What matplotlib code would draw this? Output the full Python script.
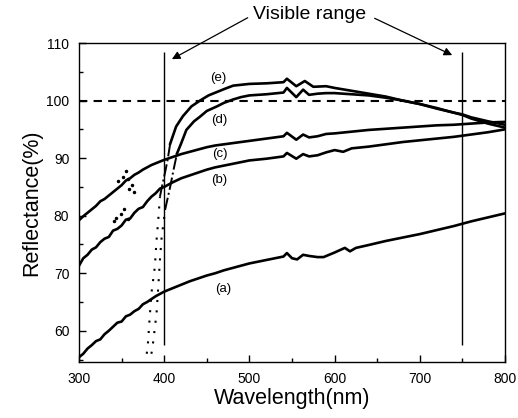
import numpy as np
from matplotlib import pyplot as plt
from matplotlib.ticker import MultipleLocator

plt.rcParams['font.family'] = ['Liberation Sans', 'DejaVu Sans']

# curve (a)
wl_a = [300, 305, 310, 315, 320, 325, 330, 335, 340, 345, 350, 355, 360, 365, 370,
        375, 380, 385, 390, 395, 400, 410, 420, 430, 440, 450, 460, 470, 480, 490,
        500, 510, 520, 530, 540, 544, 550, 556, 563, 570, 580, 587, 600, 612, 618,
        625, 640, 660, 680, 700, 720, 740, 750, 760, 780, 800]
r_a = [55.4, 56.0, 56.9, 57.5, 58.2, 58.5, 59.4, 60.0, 60.7, 61.4, 61.6, 62.5, 62.8, 63.4, 63.8,
       64.6, 65.0, 65.5, 66.0, 66.4, 66.8, 67.4, 68.0, 68.6, 69.1, 69.6, 70.0, 70.5, 70.9, 71.3,
       71.7, 72.0, 72.3, 72.6, 72.9, 73.5, 72.6, 72.4, 73.2, 73.0, 72.8, 72.8, 73.6, 74.4, 73.8,
       74.4, 74.9, 75.6, 76.2, 76.8, 77.5, 78.2, 78.6, 79.0, 79.7, 80.4]

# curve (b)
wl_b = [300, 305, 310, 315, 320, 325, 330, 335, 340, 345, 350, 355, 360, 365, 370,
        375, 380, 385, 390, 395, 400, 410, 420, 430, 440, 450, 460, 470, 480, 490,
        500, 520, 540, 544, 555, 563, 570, 580, 590, 600, 610, 620, 640, 660, 680,
        700, 720, 740, 760, 780, 800]
r_b = [71.3, 72.6, 73.2, 74.1, 74.5, 75.4, 76.0, 76.3, 77.4, 77.7, 78.3, 79.3, 79.5, 80.5, 81.2,
       81.5, 82.5, 83.3, 83.9, 84.7, 85.0, 85.8, 86.5, 87.0, 87.5, 88.0, 88.4, 88.7, 89.0, 89.3,
       89.6, 89.9, 90.3, 90.9, 89.9, 90.7, 90.3, 90.5, 91.0, 91.4, 91.1, 91.7, 92.0, 92.4, 92.8,
       93.1, 93.4, 93.7, 94.1, 94.5, 95.0]

# curve (c)
wl_c = [300, 305, 310, 315, 320, 325, 330, 335, 340, 345, 350, 355, 360, 365, 370,
        375, 380, 385, 390, 395, 400, 410, 420, 430, 440, 450, 460, 470, 480, 490,
        500, 520, 540, 544, 555, 563, 570, 580, 590, 600, 620, 640, 660, 680, 700,
        720, 740, 760, 780, 800]
r_c = [79.2, 79.9, 80.5, 81.1, 81.7, 82.5, 82.9, 83.5, 84.1, 84.7, 85.3, 86.1, 86.5, 87.1, 87.5,
       88.0, 88.4, 88.8, 89.1, 89.4, 89.7, 90.2, 90.7, 91.1, 91.5, 91.9, 92.2, 92.4, 92.6, 92.8,
       93.0, 93.4, 93.8, 94.4, 93.2, 94.1, 93.6, 93.8, 94.2, 94.3, 94.6, 94.9, 95.1, 95.3, 95.5,
       95.7, 95.8, 96.0, 96.2, 96.3]

# curve (d): dotted rise, dash-dot rise, then solid
wl_d_dot = [385, 387, 389, 391, 393, 395, 397, 399, 401]
r_d_dot = [56.0, 58.0, 60.5, 63.0, 67.6, 72.3, 76.3, 78.5, 81.0]
wl_d_dd = [401, 404, 407, 411, 415]
r_d_dd = [81.0, 83.0, 85.0, 88.0, 90.8]
wl_d = [415, 420, 426, 435, 442, 450, 462, 470, 481, 490, 500, 520, 540, 544, 555,
        563, 570, 580, 590, 600, 620, 640, 660, 680, 700, 720, 740, 750, 760, 780, 800]
r_d = [90.8, 92.6, 94.9, 96.4, 97.2, 98.2, 99.0, 99.6, 100.2, 100.6, 100.9, 101.1, 101.4, 102.2, 100.6,
       101.9, 101.0, 101.2, 101.3, 101.3, 101.1, 100.9, 100.5, 100.0, 99.4, 98.7, 97.9, 97.5, 96.9, 96.0, 95.3]

# curve (e)
wl_e_dot = [379.5, 381, 383, 385, 387, 389, 391, 393, 395]
r_e_dot = [56.0, 58.0, 62.4, 66.5, 68.8, 71.1, 75.7, 79.2, 83.3]
wl_e_dd = [395, 398, 401, 404, 407]
r_e_dd = [83.3, 85.5, 87.5, 89.7, 92.5]
wl_e = [407, 414, 422, 432, 442, 452, 462, 472, 481, 500, 520, 540, 544, 555, 565,
        575, 590, 600, 620, 640, 660, 680, 700, 720, 740, 750, 760, 780, 800]
r_e = [92.5, 95.5, 97.3, 99.0, 100.0, 100.9, 101.5, 102.1, 102.6, 102.9, 103.0, 103.2, 103.8, 102.5, 103.4,
       102.4, 102.5, 102.2, 101.7, 101.2, 100.7, 100.0, 99.4, 98.6, 97.9, 97.6, 97.1, 96.4, 95.8]

# stray points of the noisy scans
stray_wl = [346, 352, 355, 357, 359, 362, 365, 341, 344, 349, 353, 358]
stray_r = [86.0, 86.8, 87.7, 86.4, 84.6, 85.3, 84.2, 79.0, 79.6, 80.3, 81.2, 79.5]

labels = ['(a)', '(b)', '(c)', '(d)', '(e)']
label_wl = [469, 465, 465, 465, 463]
label_r = [67.3, 86.2, 90.8, 96.6, 103.9]

visible = [400, 750]

fig = plt.figure(figsize=(5.18, 4.18), dpi=100)
ax = fig.add_axes([0.1525, 0.134, 0.8225, 0.763])

lw = 1.9
ax.plot(wl_a, r_a, color='black', lw=lw)
ax.plot(wl_b, r_b, color='black', lw=lw)
ax.plot(wl_c, r_c, color='black', lw=lw)
ax.plot(wl_d, r_d, color='black', lw=lw)
ax.plot(wl_e, r_e, color='black', lw=lw)
ax.plot(wl_d_dd, r_d_dd, color='black', lw=1.4, ls='-.')
ax.plot(wl_e_dd, r_e_dd, color='black', lw=1.4, ls='-.')
ax.plot(wl_d_dot, r_d_dot, color='black', lw=1.5, ls=(0, (1, 4)))
ax.plot(wl_e_dot, r_e_dot, color='black', lw=1.5, ls=(0, (1, 4)))
ax.plot(stray_wl, stray_r, 'o', color='black', ms=1.5, ls='none')

for t, x, y in zip(labels, label_wl, label_r):
    ax.text(x, y, t, fontsize=9.5, ha='center', va='center')

ax.axhline(100, color='black', lw=1.5, ls=(0, (4, 3)))
ax.vlines(visible, 57.5, 108.5, color='black', lw=1.0)

# visible range annotation with two arrows
arr = dict(arrowstyle='-|>', color='black', lw=0.9, mutation_scale=12, shrinkA=0, shrinkB=0)
ax.annotate('Visible range', xy=(571, 114.9), ha='center', va='center', fontsize=14,
            annotation_clip=False)
ax.annotate('', xy=(409, 107.2), xytext=(498, 114.4), arrowprops=arr, annotation_clip=False)
ax.annotate('', xy=(738, 107.9), xytext=(647, 114.3), arrowprops=arr, annotation_clip=False)

ax.set_xlim(300, 800)
ax.set_ylim(54.57, 110)
ax.xaxis.set_major_locator(MultipleLocator(100))
ax.xaxis.set_minor_locator(MultipleLocator(50))
ax.yaxis.set_major_locator(MultipleLocator(10))
ax.yaxis.set_minor_locator(MultipleLocator(5))
ax.tick_params(which='major', direction='in', length=5, width=1, labelsize=10, pad=7)
ax.tick_params(which='minor', direction='in', length=3, width=1)
for s in ax.spines.values():
    s.set_linewidth(1.0)

ax.set_xlabel('Wavelength(nm)', fontsize=15.5, labelpad=2)
ax.set_ylabel('Reflectance(%)', fontsize=15.5, labelpad=3)

plt.savefig('out.png', dpi=100)
